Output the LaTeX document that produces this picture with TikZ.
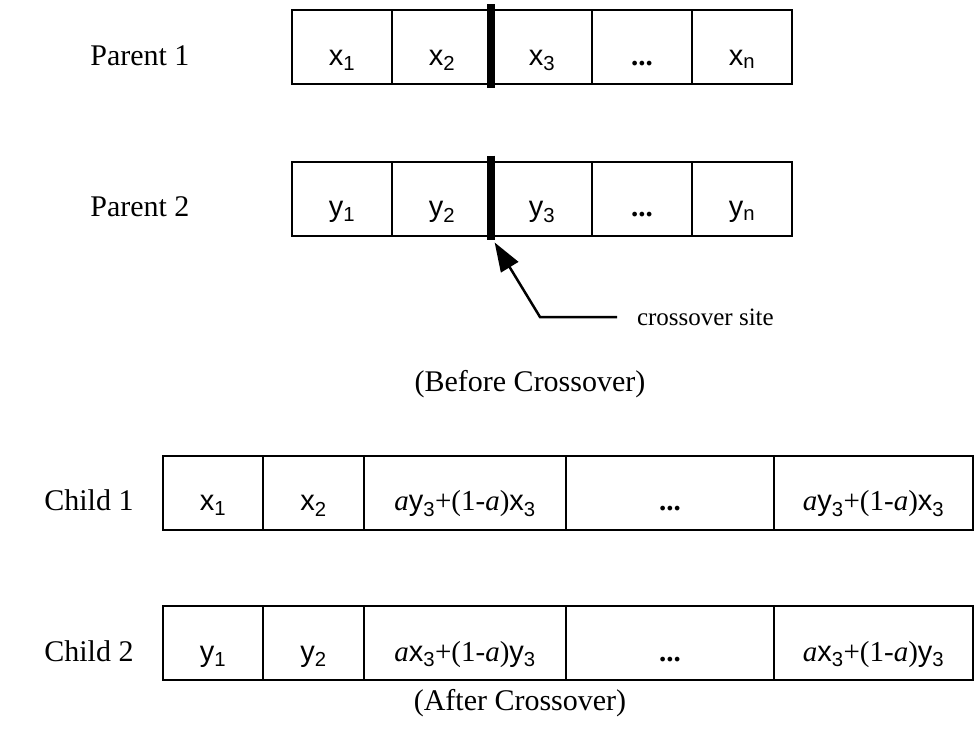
\documentclass[tikz,border=0pt]{standalone}
\usepackage{fontspec}
\setmainfont{Liberation Serif}
\setsansfont{Liberation Sans}
\usetikzlibrary{arrows.meta}

\newcommand{\xv}[1]{\textsf{x\textsubscript{#1}}}
\newcommand{\yv}[1]{\textsf{y\textsubscript{#1}}}
\newcommand{\av}{\textit{a}}
\newcommand{\gap}{\textbf{...}}

\begin{document}
\begin{tikzpicture}[
x=1pt, y=-1pt,
line width=2pt,
cell/.style={
draw,
minimum width=#1,
minimum height=74pt,
inner sep=0pt,
text height=40pt,
text depth=4pt,
font=\fontsize{29pt}{34pt}\selectfont
},
cell/.default=100pt,
rowname/.style={anchor=base west, font=\fontsize{30pt}{36pt}\selectfont},
caption/.style={font=\fontsize{30pt}{36pt}\selectfont},
cut/.style={line width=8pt},
pointer/.style={-{Triangle[length=29pt,width=20pt]}, line width=2.5pt}
]
\useasboundingbox (0,0) rectangle (975,753);

% parents
\node[rowname] (P1) at (86,65) {Parent 1};
\node[cell] (X1) at (342,47) {\xv{1}};
\node[cell] (X2) at (442,47) {\xv{2}};
\node[cell] (X3) at (542,47) {\xv{3}};
\node[cell] (Xd) at (642,47) {\gap};
\node[cell] (Xn) at (742,47) {\xv{n}};
\draw[cut] ([yshift=5pt]X3.north west) -- ([yshift=-3pt]X3.south west);

\node[rowname] (P2) at (86,216.5) {Parent 2};
\node[cell] (Y1) at (342,198.5) {\yv{1}};
\node[cell] (Y2) at (442,198.5) {\yv{2}};
\node[cell] (Y3) at (542,198.5) {\yv{3}};
\node[cell] (Yd) at (642,198.5) {\gap};
\node[cell] (Yn) at (742,198.5) {\yv{n}};
\draw[cut] ([yshift=5pt]Y3.north west) -- ([yshift=-3pt]Y3.south west);

% crossover site
\coordinate (bend) at (540,317);
\node[anchor=west, inner xsep=19pt, font=\fontsize{25pt}{30pt}\selectfont] (S) at (617,317) {crossover site};
\draw[pointer, shorten >=7pt] (S.west) -- (bend) -- (Y3.south west);

\node[caption] (BC) at (530,384) {(Before Crossover)};

% children
\node[rowname] (C1) at (40,510.5) {Child 1};
\node[cell] (U1) at (213,492.5) {\xv{1}};
\node[cell=101pt] (U2) at (313.5,492.5) {\xv{2}};
\node[cell=202pt] (U3) at (465,492.5) {\av\yv{3}+(1-\av)\xv{3}};
\node[cell=208pt] (Ud) at (670,492.5) {\gap};
\node[cell=199pt] (Un) at (873.5,492.5) {\av\yv{3}+(1-\av)\xv{3}};

\node[rowname] (C2) at (40,661) {Child 2};
\node[cell] (V1) at (213,643) {\yv{1}};
\node[cell=101pt] (V2) at (313.5,643) {\yv{2}};
\node[cell=202pt] (V3) at (465,643) {\av\xv{3}+(1-\av)\yv{3}};
\node[cell=208pt] (Vd) at (670,643) {\gap};
\node[cell=199pt] (Vn) at (873.5,643) {\av\xv{3}+(1-\av)\yv{3}};

\node[caption] (AC) at (520,703) {(After Crossover)};

\end{tikzpicture}
\end{document}
